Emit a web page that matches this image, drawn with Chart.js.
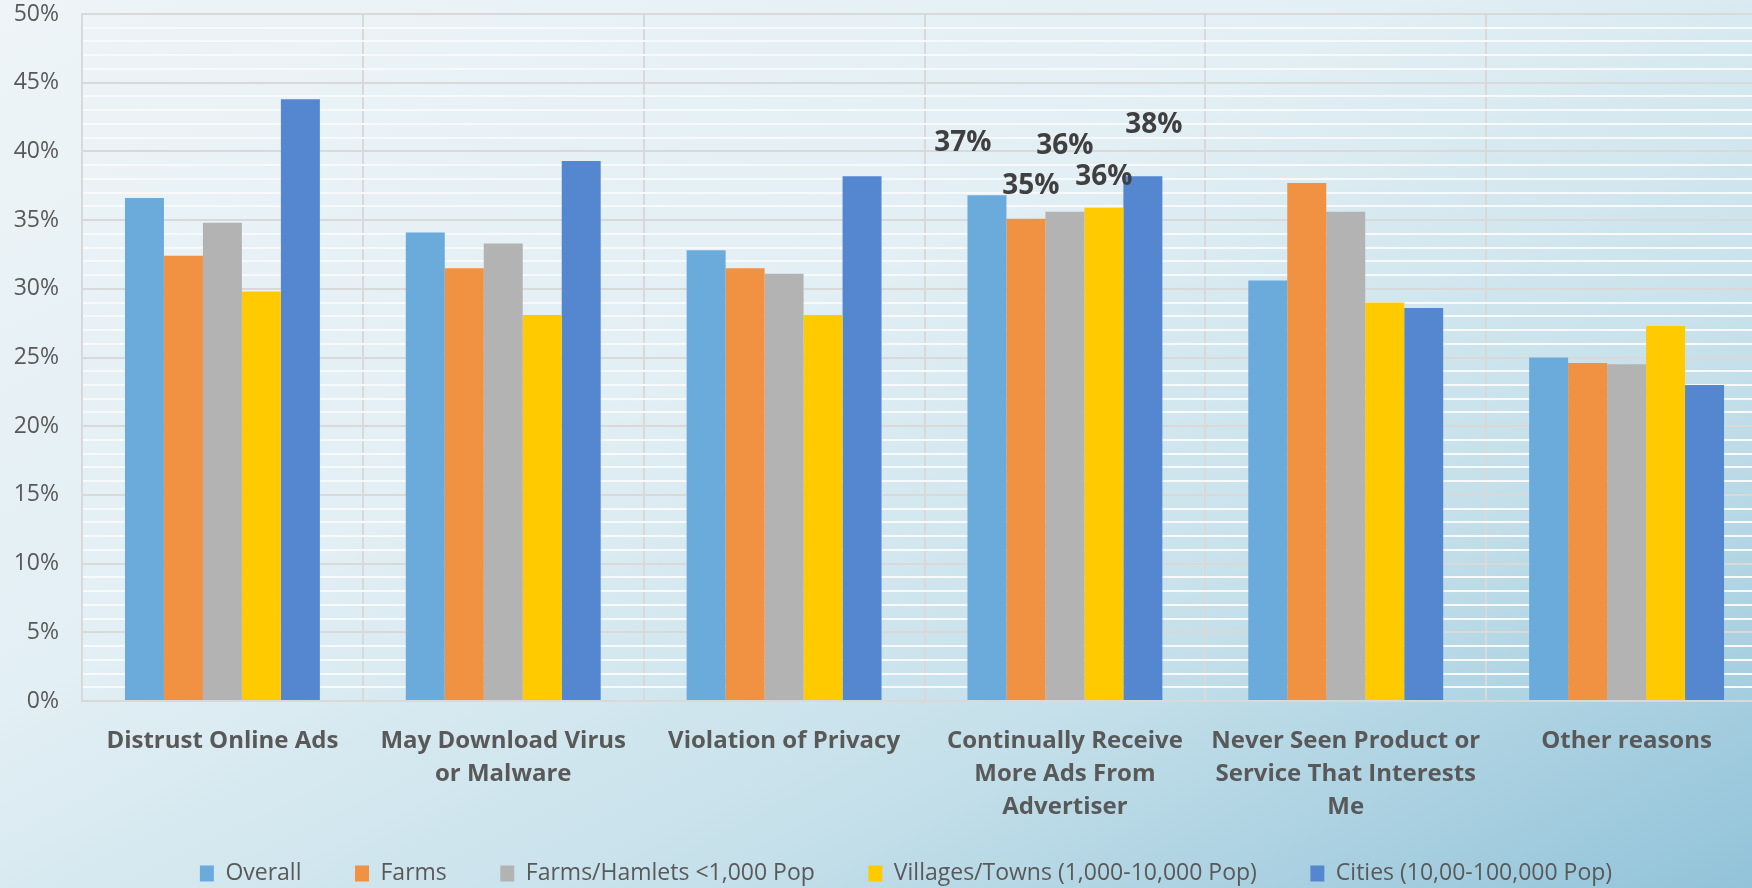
<!DOCTYPE html>
<html>
<head>
<meta charset="utf-8">
<script src="https://cdn.jsdelivr.net/npm/chart.js@4"></script>
<style>
  html, body {
    margin: 0;
    padding: 0;
    width: 1752px;
    height: 888px;
    overflow: hidden;
  }
  body {
    background: linear-gradient(to bottom right, #eef4f7 0%, #e2eff4 40%, #c5e0ea 70%, #92c3d9 100%);
  }
  #wrap {
    width: 1812px;
    height: 888px;
  }
</style>
</head>
<body>
<div id="wrap"><canvas id="adsChart" width="1812" height="888"></canvas></div>
<script>
const categories = [
  ["Distrust Online Ads"],
  ["May Download Virus", "or Malware"],
  ["Violation of Privacy"],
  ["Continually Receive", "More Ads From", "Advertiser"],
  ["Never Seen Product or", "Service That Interests", "Me"],
  ["Other reasons"]
];

const seriesNames = [
  "Overall",
  "Farms",
  "Farms/Hamlets <1,000 Pop",
  "Villages/Towns (1,000-10,000 Pop)",
  "Cities (10,00-100,000 Pop)"
];

const overall = [36.6, 34.1, 32.8, 36.8, 30.6, 25.0];
const farms = [32.4, 31.5, 31.5, 35.1, 37.7, 24.6];
const hamlets = [34.8, 33.3, 31.1, 35.6, 35.6, 24.5];
const villages = [29.8, 28.1, 28.1, 35.9, 29.0, 27.3];
const cities = [43.8, 39.3, 38.2, 38.2, 28.6, 23.0];

const seriesColors = ["#6aabdc", "#f19142", "#b3b3b3", "#ffcb00", "#5586d0"];

// only the "Continually Receive..." group carries value labels
const labelledCategory = 3;

// Excel put these labels by hand, so each one gets its own nudge (x, y from bar top)
const labelNudges = [[-24, -52], [5, -33], [0, -66], [0, -31], [11, -51]];

const valueLabels = {
  id: 'valueLabels',
  afterDatasetsDraw(chart) {
    const ctx = chart.ctx;
    ctx.save();
    ctx.font = "bold 28px 'Open Sans'";
    ctx.fillStyle = "#404040";
    ctx.textAlign = "center";
    ctx.textBaseline = "middle";
    chart.data.datasets.forEach((ds, i) => {
      const bar = chart.getDatasetMeta(i).data[labelledCategory];
      if (!bar) return;
      const nudge = labelNudges[i];
      const text = Math.round(ds.data[labelledCategory]) + "%";
      ctx.fillText(text, bar.x + nudge[0], bar.y + nudge[1]);
    });
    ctx.restore();
  }
};

document.addEventListener('DOMContentLoaded', function() {
  drawChart();
});

function drawChart() {
  const canvas = document.getElementById('adsChart');
  const allSeries = [overall, farms, hamlets, villages, cities];

  new Chart(canvas.getContext('2d'), {
    type: 'bar',
    data: {
      labels: categories,
      datasets: allSeries.map((vals, i) => ({
        label: seriesNames[i],
        data: vals,
        backgroundColor: seriesColors[i],
        borderWidth: 0,
        categoryPercentage: 0.694,
        barPercentage: 1.0
      }))
    },
    options: {
      responsive: false,
      animation: false,
      layout: {
        padding: { left: 0, right: 0, top: 0, bottom: -7 }
      },
      scales: {
        x: {
          grid: {
            offset: true,
            color: '#d9d9d9',
            lineWidth: 2,
            drawTicks: false
          },
          border: { color: '#d9d9d9', width: 2 },
          ticks: {
            color: '#595959',
            font: { family: 'Open Sans', size: 24, weight: 'bold', lineHeight: 1.375 },
            padding: 24,
            maxRotation: 0,
            autoSkip: false
          },
          afterFit: scale => { scale.height = 119; }
        },
        y: {
          min: 0,
          max: 50,
          grid: {
            color: ctx => (ctx.tick && ctx.tick.value % 5 === 0) ? '#d9d9d9' : '#f7f9fa',
            lineWidth: 2,
            drawTicks: false
          },
          border: { color: '#d9d9d9', width: 2 },
          ticks: {
            stepSize: 1,
            autoSkip: false,
            color: '#595959',
            font: { family: 'Open Sans', size: 23 },
            padding: 23,
            callback: v => (v % 5 === 0) ? v + '%' : ''
          },
          afterFit: scale => {
            scale.width = 82;
            scale.paddingTop = 14;
            scale.paddingBottom = 0;
          }
        },
        // empty spacer on the right so the plot runs off the picture like the original
        spacer: {
          type: 'linear',
          position: 'right',
          display: true,
          grid: { drawOnChartArea: false, drawTicks: false },
          border: { display: false },
          ticks: { display: false },
          afterFit: scale => { scale.width = 45; }
        }
      },
      plugins: {
        legend: {
          position: 'bottom',
          labels: {
            color: '#595959',
            font: { family: 'Open Sans', size: 23 },
            boxWidth: 14,
            boxHeight: 16,
            padding: 42,
            // a little extra room after each name, the padding also sets the legend's height
            generateLabels: chart => {
              const items = Chart.defaults.plugins.legend.labels.generateLabels(chart);
              items.forEach((item, i) => {
                if (i < items.length - 1) item.text += '\u2002';
              });
              return items;
            }
          }
        },
        tooltip: { enabled: false }
      }
    },
    plugins: [valueLabels]
  });
}
</script>
</body>
</html>
